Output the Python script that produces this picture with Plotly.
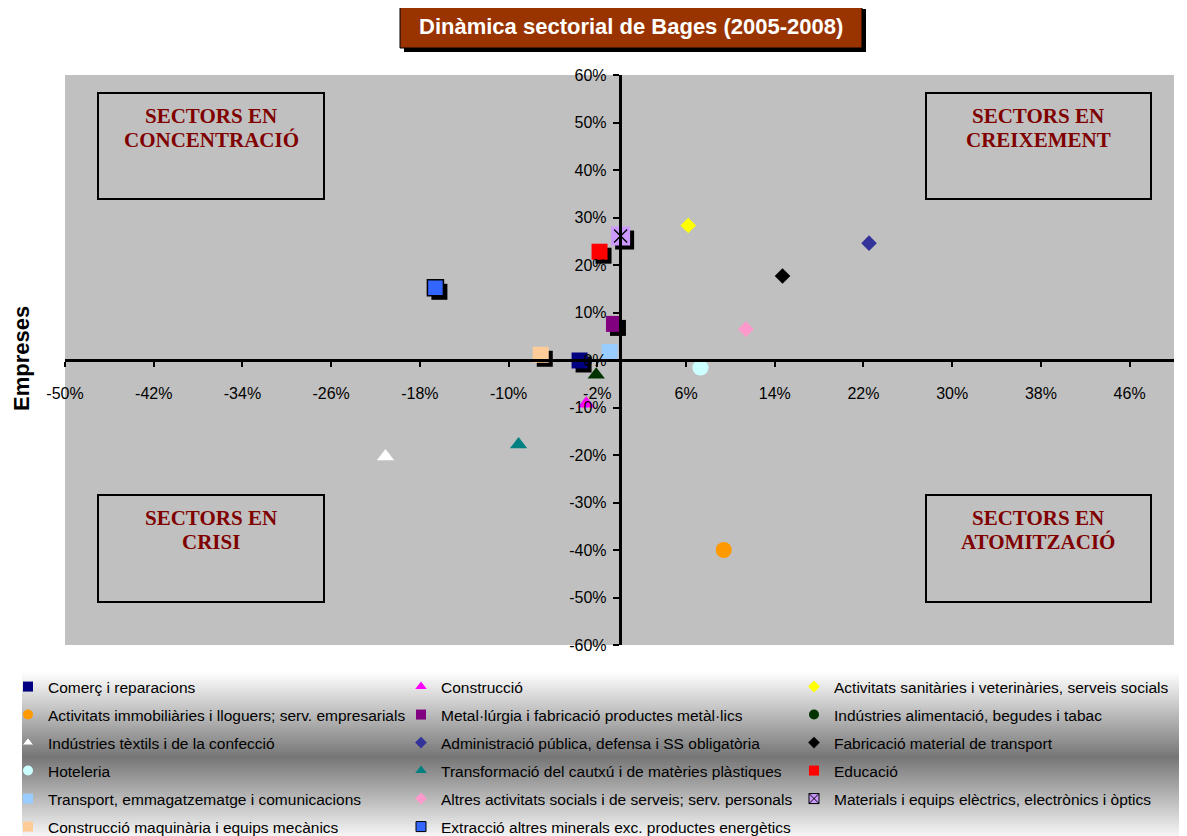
import plotly.graph_objects as go

# ---------------- data ----------------
sectors = [
    "Comerç i reparacions",
    "Construcció",
    "Activitats sanitàries i veterinàries, serveis socials",
    "Activitats immobiliàries i lloguers; serv. empresarials",
    "Metal·lúrgia i fabricació productes metàl·lics",
    "Indústries alimentació, begudes i tabac",
    "Indústries tèxtils i de la confecció",
    "Administració pública, defensa i SS obligatòria",
    "Fabricació material de transport",
    "Hoteleria",
    "Transformació del cautxú i de matèries plàstiques",
    "Educació",
    "Transport, emmagatzematge i comunicacions",
    "Altres activitats socials i de serveis; serv. personals",
    "Materials i equips elèctrics, electrònics i òptics",
    "Construcció maquinària i equips mecànics",
    "Extracció altres minerals exc. productes energètics",
]
ocupacio = [-3.6, -3.0, 6.2, 9.4, -0.5, -2.1, -21.1, 22.5, 14.7, 7.3, -9.1, -1.8, -0.9, 11.4, 0.1, -7.1, -16.6]
empreses = [-0.1, -9.2, 28.3, -40.0, 7.6, -3.1, -20.3, 24.6, 17.7, -1.6, -17.8, 22.8, 1.7, 6.5, 26.1, 1.1, 15.2]

x_ticks = [-50, -42, -34, -26, -18, -10, -2, 6, 14, 22, 30, 38, 46]
y_ticks = [-60, -50, -40, -30, -20, -10, 0, 10, 20, 30, 40, 50, 60]

# ---------------- styles ----------------
colors = ["#000080", "#FF00FF", "#FFFF00", "#FF9900", "#800080", "#003300", "#FFFFFF",
          "#333399", "#000000", "#CCFFFF", "#008080", "#FF0000", "#99CCFF", "#FF99CC",
          "#CC99FF", "#FFCC99", "#3366FF"]
symbols = ["square", "triangle-up", "diamond", "circle", "square", "triangle-up", "triangle-up",
           "diamond", "diamond", "circle", "triangle-up", "square", "square", "diamond",
           "square", "square", "square"]
leg_symbols = ["square", "triangle-up", "diamond", "circle", "square", "circle", "triangle-up",
               "diamond", "diamond", "circle", "triangle-up", "square", "square", "diamond",
               "square-x", "square", "square"]
has_shadow = [True, False, False, False, True, False, False, False, False, False, False,
              True, False, False, True, True, True]
has_border = [False] * 16 + [True]

# the page body adds an 8px offset; figure is sized to fill the rest of the window
OFF = 8
W, H = 1187 - OFF, 836 - OFF
ML, MR, MT, MB = 65 - OFF, 13, 75 - OFF, 191
PW, PH = W - ML - MR, H - MT - MB


def px(x):
    # screen pixel x -> paper fraction
    return (x - OFF - ML) / PW


def py(y):
    # screen pixel y -> paper fraction
    return (H - MB - (y - OFF)) / PH


def msize(sym):
    return {"square": 16, "diamond": 12, "circle": 16, "triangle-up": 15}[sym]


def lsize(sym):
    return {"square": 10, "square-x": 10, "diamond": 9, "circle": 10, "triangle-up": 10}[sym]


FONT = "Liberation Sans, Arial, sans-serif"
SERIF = "Liberation Serif, Times New Roman, serif"

fig = go.Figure()

# shadows (offset a few pixels right/down)
dx = 4 * 100 / PW
dy = -4 * 120 / PH
sh_x = [ocupacio[i] + dx for i in range(len(sectors)) if has_shadow[i]]
sh_y = [empreses[i] + dy for i in range(len(sectors)) if has_shadow[i]]
sh_s = [msize(symbols[i]) + (3 if i == 14 else 0) for i in range(len(sectors)) if has_shadow[i]]
fig.add_trace(go.Scatter(x=sh_x, y=sh_y, mode="markers", showlegend=False, hoverinfo="skip",
                         marker=dict(symbol="square", size=sh_s, color="black", opacity=1,
                                     line=dict(width=0))))

col_x = [8, 401, 794]
row_y = [687, 715, 743, 771, 799, 827]
legends = {}

for i, name in enumerate(sectors):
    leg = "legend" if i == 0 else f"legend{i + 1}"
    size = msize(symbols[i]) + (3 if i == 14 else 0)
    fig.add_trace(go.Scatter(
        x=[ocupacio[i]], y=[empreses[i]], mode="markers", name=name, showlegend=False,
        legendgroup=name,
        marker=dict(symbol=symbols[i], size=size, color=colors[i], opacity=1,
                    line=dict(width=1.5 if has_border[i] else 0, color="black"))))
    if i == 14:
        fig.add_trace(go.Scatter(
            x=[ocupacio[i]], y=[empreses[i]], mode="markers", showlegend=False, legendgroup=name,
            hoverinfo="skip",
            marker=dict(symbol="x-thin-open", size=13, color="black", line=dict(width=1.3, color="black"))))
    # legend entry
    fig.add_trace(go.Scatter(
        x=[None], y=[None], mode="markers", name=name, legend=leg, legendgroup=name,
        marker=dict(symbol=leg_symbols[i], size=lsize(leg_symbols[i]), color=colors[i],
                    line=dict(width=1 if (has_border[i] or leg_symbols[i] == "square-x" or colors[i] == "#FFFFFF") else 0,
                              color="black" if leg_symbols[i] != "triangle-up" else "#888"))))
    legends[leg] = dict(orientation="h", x=px(col_x[i % 3]), xanchor="left",
                        y=py(row_y[i // 3]), yanchor="middle",
                        bgcolor="rgba(0,0,0,0)", borderwidth=0,
                        font=dict(family=FONT, size=15.5, color="black"))

shapes = []
# legend gradient background
for yy in range(672, 836, 2):
    t = abs((yy + 1) - 757) / 85.0
    g = int(round(118 + (255 - 118) * min(1.0, t)))
    shapes.append(dict(type="rect", xref="paper", yref="paper", x0=px(22), x1=px(1190),
                       y0=py(yy + 2.4), y1=py(yy), fillcolor=f"rgb({g},{g},{g})",
                       line=dict(width=0), layer="below"))

# quadrant boxes
boxes = [(98, 93, 324, 199), (926, 93, 1151, 199), (98, 495, 324, 602), (926, 495, 1151, 602)]
for (x0, y0, x1, y1) in boxes:
    shapes.append(dict(type="rect", xref="paper", yref="paper", x0=px(x0), x1=px(x1),
                       y0=py(y1), y1=py(y0), line=dict(color="black", width=2),
                       fillcolor="rgba(0,0,0,0)", layer="above"))

# title box with shadow
shapes.append(dict(type="rect", xref="paper", yref="paper", x0=px(404), x1=px(866),
                   y0=py(52), y1=py(9), fillcolor="black", line=dict(width=0), layer="above"))
shapes.append(dict(type="rect", xref="paper", yref="paper", x0=px(400), x1=px(862),
                   y0=py(48), y1=py(5), fillcolor="#993300", line=dict(color="black", width=1),
                   layer="above"))

annotations = [
    dict(text="<b>Dinàmica sectorial de Bages (2005-2008)</b>", x=px(631), y=py(27),
         xref="paper", yref="paper", showarrow=False, xanchor="center", yanchor="middle",
         font=dict(family=FONT, size=22, color="white")),
    dict(text="<b>Empreses</b>", x=px(21), y=py(359), xref="paper", yref="paper",
         showarrow=False, textangle=-90, xanchor="center", yanchor="middle",
         font=dict(family=FONT, size=22, color="black")),
]
quad_text = [
    (211, 116, "SECTORS EN"), (211, 140, "CONCENTRACIÓ"),
    (1038, 116, "SECTORS EN"), (1038, 140, "CREIXEMENT"),
    (211, 518, "SECTORS EN"), (211, 542, "CRISI"),
    (1038, 518, "SECTORS EN"), (1038, 542, "ATOMITZACIÓ"),
]
for (xx, yy, tx) in quad_text:
    annotations.append(dict(text=f"<b>{tx}</b>", x=px(xx), y=py(yy), xref="paper", yref="paper",
                            showarrow=False, xanchor="center", yanchor="middle",
                            font=dict(family=SERIF, size=21, color="#800000")))

fig.update_layout(
    width=W, height=H,
    margin=dict(l=ML, r=MR, t=MT, b=MB, pad=0, autoexpand=False),
    paper_bgcolor="white", plot_bgcolor="#C0C0C0",
    font=dict(family=FONT, size=16, color="black"),
    xaxis=dict(range=[-50, 50], anchor="free", position=0.5, tickvals=x_ticks,
               ticktext=[f"{v}%" for v in x_ticks], ticks="outside", ticklen=5, tickwidth=2,
               tickcolor="black", showline=True, linecolor="black", linewidth=2.5,
               showgrid=False, zeroline=False, ticklabelstandoff=13,
               tickfont=dict(family=FONT, size=16, color="black")),
    yaxis=dict(range=[-60, 60], anchor="free", position=0.5, tickvals=y_ticks,
               ticktext=[f"{v}%" for v in y_ticks], ticks="outside", ticklen=6, tickwidth=2,
               tickcolor="black", showline=True, linecolor="black", linewidth=2.5,
               showgrid=False, zeroline=False, ticklabelstandoff=3,
               tickfont=dict(family=FONT, size=16, color="black")),
    shapes=shapes,
    annotations=annotations,
    **legends,
)

fig.write_html("out.html")
